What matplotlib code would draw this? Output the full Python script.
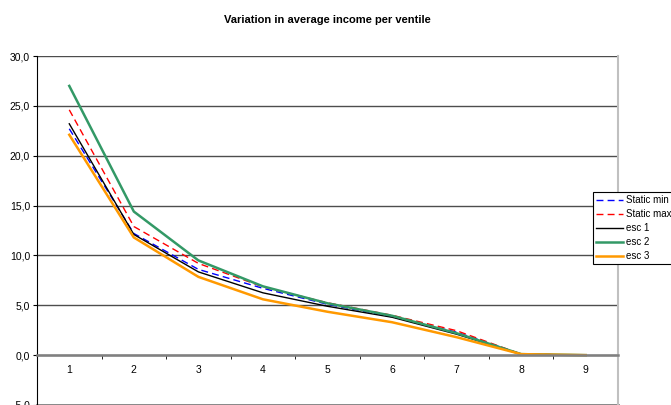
import numpy as np
import matplotlib
matplotlib.use('Agg')
import matplotlib.pyplot as plt
from matplotlib.ticker import FuncFormatter, FixedLocator

ventiles = [1, 2, 3, 4, 5, 6, 7, 8, 9]
static_min = [22.7, 12.2, 8.6, 6.7, 5.1, 3.85, 2.3, 0.1, 0.0]
static_max = [24.6, 12.9, 9.2, 6.85, 5.25, 4.0, 2.45, 0.1, 0.0]
esc1 = [23.2, 12.1, 8.35, 6.25, 4.9, 3.8, 2.1, 0.1, 0.0]
esc2 = [27.0, 14.4, 9.5, 6.9, 5.2, 3.95, 2.2, 0.1, 0.0]
esc3 = [22.1, 11.8, 7.85, 5.6, 4.35, 3.3, 1.8, 0.1, 0.0]
labels = ['Static min 1', 'Static max 1', 'esc 1', 'esc 2', 'esc 3']
title = 'Variation in average income per ventile'

plt.rcParams['font.family'] = ['Liberation Sans', 'DejaVu Sans']

fig = plt.figure(figsize=(6.71, 4.05), dpi=100)
ax = fig.add_axes([37 / 671, 0.0, 581 / 671, 1 - 56 / 405])

ax.plot(ventiles, static_min, color='#0000ff', lw=1, ls=(0, (5, 3)), label=labels[0])
ax.plot(ventiles, static_max, color='#ff0000', lw=1, ls=(0, (5, 3)), label=labels[1])
ax.plot(ventiles, esc1, color='#000000', lw=1, label=labels[2])
ax.plot(ventiles, esc2, color='#339966', lw=1.8, label=labels[3])
ax.plot(ventiles, esc3, color='#ff9900', lw=1.8, label=labels[4])

ax.set_xlim(0.5, 9.5)
ax.set_ylim(-5, 30)
ax.set_yticks(np.arange(-5, 31, 5))
ax.yaxis.set_major_formatter(FuncFormatter(lambda v, p: ('%.1f' % v).replace('.', ',')))
ax.grid(axis='y', color='0.3', lw=1)
ax.set_axisbelow(True)

# category axis sits on y=0, ticks between categories
ax.spines['bottom'].set_position(('data', 0))
ax.spines['bottom'].set_color('0.5')
ax.spines['bottom'].set_linewidth(1.8)
ax.spines['left'].set_color('black')
ax.spines['right'].set_color('#c0c0c0')
ax.spines['right'].set_linewidth(1.5)
ax.spines['top'].set_visible(False)
ax.set_xticks(ventiles)
ax.xaxis.set_minor_locator(FixedLocator(np.arange(0.5, 9.6, 1)))
ax.tick_params(axis='x', which='major', length=0, pad=7, labelsize=7.5)
ax.tick_params(axis='x', which='minor', length=3, direction='out', color='black')
ax.tick_params(axis='y', length=3, direction='out', labelsize=7.5, pad=2)
ax.axhline(-5, color='0.5', lw=2, clip_on=False)

fig.text(0.4885, 1 - 20 / 405, title, ha='center', va='center', fontsize=8, fontweight='bold')

leg = fig.legend(loc='upper left', bbox_to_anchor=(593 / 671, 1 - 192 / 405), fontsize=7,
                 frameon=True, fancybox=False, edgecolor='black', framealpha=1,
                 handlelength=2.8, handletextpad=0.25, borderpad=0.3, labelspacing=0.42,
                 borderaxespad=0)
leg.get_frame().set_linewidth(0.8)

fig.savefig('out.png', dpi=100)
